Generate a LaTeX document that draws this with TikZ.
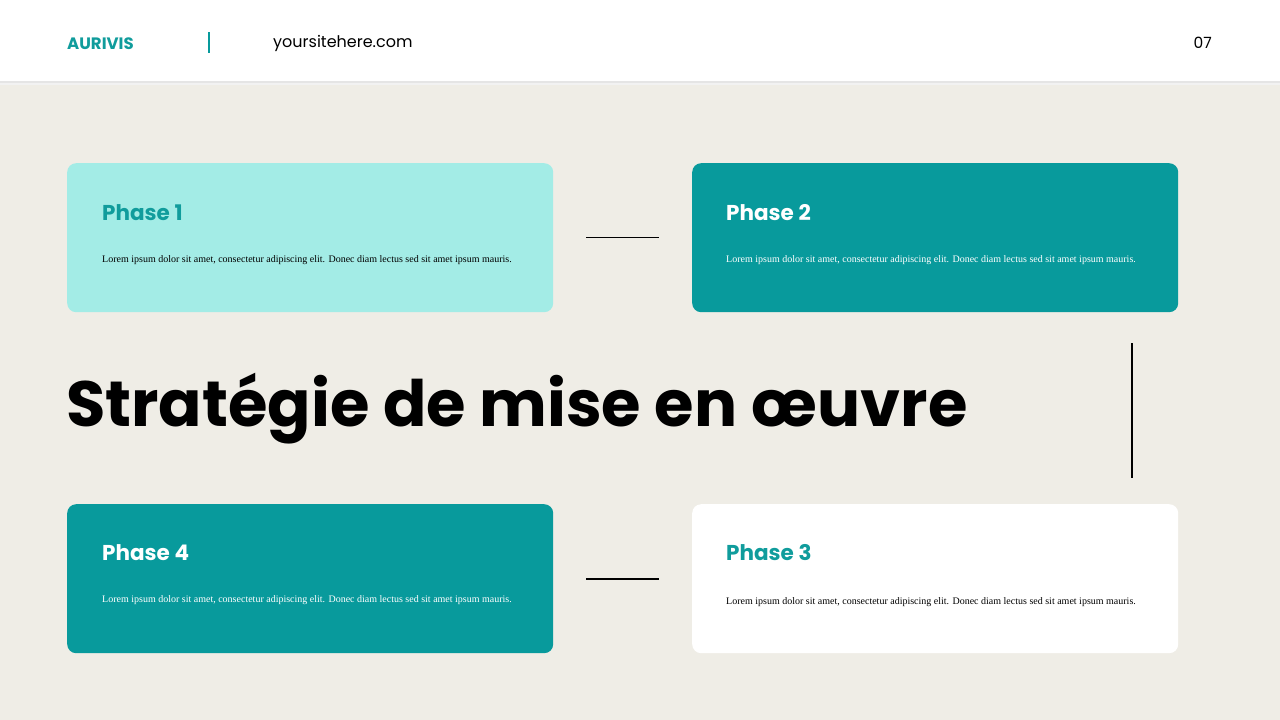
\documentclass[tikz,border=0pt]{standalone}
\usepackage{fontspec}
\setmainfont{Poppins}
\newfontfamily\loremfont{Liberation Serif}
\definecolor{bgc}{HTML}{EFEDE6}
\definecolor{teal}{HTML}{089A9C}
\definecolor{tealtxt}{HTML}{109C9C}
\definecolor{mint}{HTML}{A3ECE6}
\tikzset{
  card/.style={rounded corners=9pt, minimum width=486pt, minimum height=149pt, inner sep=0pt, anchor=north west, draw=none},
  phasetitle/.style={anchor=west, inner sep=0pt, font=\fontsize{21.5}{24}\selectfont\bfseries},
  lorem/.style={anchor=west, inner sep=0pt, font=\loremfont\fontsize{10}{12}\selectfont},
  conn/.style={draw=black, line width=1.2pt}
}
\begin{document}
\begin{tikzpicture}[x=1pt,y=-1pt]
\useasboundingbox (0,0) rectangle (1280,720);
\fill[bgc] (0,0) rectangle (1280,720);
% header shadow
\fill[black!10] (0,81) rectangle (1280,83);
\fill[black!5] (0,83) rectangle (1280,85);
\fill[white] (0,0) rectangle (1280,81);
\node[anchor=west, inner sep=0pt, text=tealtxt, font=\fontsize{16.5}{18}\selectfont\bfseries] (brand) at (67,43.5) {AURIVIS};
\draw[teal, line width=1.4pt] (209,32) -- (209,53);
\node[anchor=west, inner sep=0pt, font=\fontsize{16}{18}\selectfont] (site) at (273,43) {yoursitehere.com};
\node[anchor=east, inner sep=0pt, font=\fontsize{15.5}{18}\selectfont] (pg) at (1212,43) {07};
% cards
\node[card, fill=mint] (c1) at (67,163) {};
\node[card, fill=teal] (c2) at (692,163) {};
\node[card, fill=teal] (c4) at (67,504) {};
\node[card, fill=white] (c3) at (692,504) {};
\node[phasetitle, text=tealtxt] (t1) at (102,212.5) {Phase 1};
\node[lorem, text=black] (l1) at (102,260.5) {Lorem ipsum dolor sit amet, consectetur adipiscing elit. Donec diam lectus sed sit amet ipsum mauris.};
\node[phasetitle, text=white] (t2) at (726,212.5) {Phase 2};
\node[lorem, text=white] (l2) at (726,260.5) {Lorem ipsum dolor sit amet, consectetur adipiscing elit. Donec diam lectus sed sit amet ipsum mauris.};
\node[phasetitle, text=white] (t4) at (102,552.5) {Phase 4};
\node[lorem, text=white] (l4) at (102,600) {Lorem ipsum dolor sit amet, consectetur adipiscing elit. Donec diam lectus sed sit amet ipsum mauris.};
\node[phasetitle, text=tealtxt] (t3) at (726,552.5) {Phase 3};
\node[lorem, text=black] (l3) at (726,602) {Lorem ipsum dolor sit amet, consectetur adipiscing elit. Donec diam lectus sed sit amet ipsum mauris.};
% connectors
\coordinate (a1) at (586,237.5); \coordinate (a2) at (659,237.5);
\coordinate (b1) at (586,579); \coordinate (b2) at (659,579);
\coordinate (v1) at (1132,343); \coordinate (v2) at (1132,478);
\draw[conn] (a1) -- (a2);
\draw[conn] (b1) -- (b2);
\draw[conn] (v1) -- (v2);
% title
\node[anchor=west, inner sep=0pt, font=\fontsize{64}{68}\selectfont\bfseries] (title) at (66,409) {Stratégie de mise en œuvre};
\end{tikzpicture}
\end{document}
